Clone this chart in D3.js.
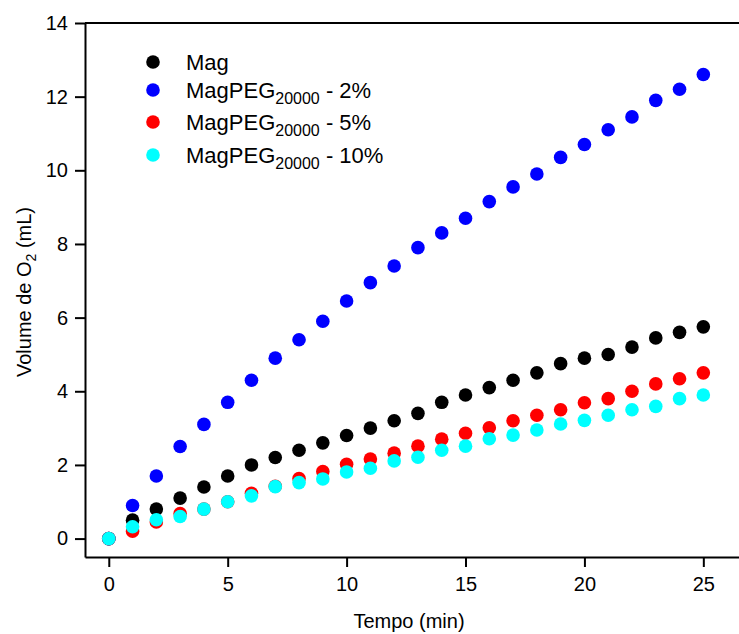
<!DOCTYPE html>
<html lang="en">
<head>
    <meta charset="UTF-8">
    <script src="https://d3js.org/d3.v7.min.js"></script>
    <title>Volume de O2</title>
    <style>
        body { margin: 0; background: white; }
        svg { display: block; font-family: "Liberation Sans", Arial, sans-serif; }
        .axis path, .axis line { stroke: black; stroke-width: 2px; }
        .axis text { font-size: 20px; fill: black; }
    </style>
</head>
<body>
    <script>
        /*------------------- data --------------------*/
        const tempo = d3.range(0, 26)  // 0..25 min
        const mag = [0, 0.5, 0.8, 1.1, 1.4, 1.7, 2.0, 2.2, 2.4, 2.6, 2.8, 3.0, 3.2, 3.4, 3.7, 3.9, 4.1, 4.3, 4.5, 4.75, 4.9, 5.0, 5.2, 5.45, 5.6, 5.75]
        const peg2 = [0, 0.9, 1.7, 2.5, 3.1, 3.7, 4.3, 4.9, 5.4, 5.9, 6.45, 6.95, 7.4, 7.9, 8.3, 8.7, 9.15, 9.55, 9.9, 10.35, 10.7, 11.1, 11.45, 11.9, 12.2, 12.6]
        const peg5 = [0, 0.2, 0.45, 0.68, 0.8, 1.0, 1.23, 1.42, 1.63, 1.82, 2.02, 2.16, 2.32, 2.51, 2.7, 2.86, 3.01, 3.2, 3.35, 3.5, 3.69, 3.8, 4.0, 4.2, 4.34, 4.5]
        const peg10 = [0, 0.32, 0.51, 0.6, 0.8, 1.0, 1.16, 1.41, 1.52, 1.62, 1.81, 1.91, 2.11, 2.21, 2.4, 2.51, 2.71, 2.81, 2.95, 3.11, 3.21, 3.35, 3.5, 3.59, 3.8, 3.9]
        const xTicks = [0, 5, 10, 15, 20, 25]
        const yTicks = [0, 2, 4, 6, 8, 10, 12, 14]

        const series = [
            { name: "Mag", sub: null, tail: null, color: "#000000", values: mag },
            { name: "MagPEG", sub: "20000", tail: " - 2%", color: "#0000ff", values: peg2 },
            { name: "MagPEG", sub: "20000", tail: " - 5%", color: "#ff0000", values: peg5 },
            { name: "MagPEG", sub: "20000", tail: " - 10%", color: "#00ffff", values: peg10 }
        ]

        /*------------------- svg + scales --------------------*/
        const width = 739, height = 634
        const svg = d3.select("body").append("svg")
            .attr("width", width)
            .attr("height", height)

        const x = d3.scaleLinear().domain([-1, 26.5]).range([85, 739])
        const y = d3.scaleLinear().domain([-0.5, 14]).range([557, 23])

        // axes
        svg.append("g")
            .attr("class", "axis")
            .attr("transform", `translate(0,${y.range()[0]})`)
            .call(d3.axisBottom(x).tickValues(xTicks).tickSizeInner(10).tickSizeOuter(0).tickPadding(10))

        svg.append("g")
            .attr("class", "axis")
            .attr("transform", `translate(${x.range()[0]},0)`)
            .call(d3.axisLeft(y).tickValues(yTicks).tickSizeInner(10).tickSizeOuter(0).tickPadding(7))

        // top frame line
        svg.append("line")
            .attr("x1", x.range()[0]).attr("x2", x.range()[1])
            .attr("y1", y.range()[1]).attr("y2", y.range()[1])
            .attr("stroke", "black").attr("stroke-width", 2)

        // axis titles
        svg.append("text")
            .attr("x", 409).attr("y", 628)
            .attr("text-anchor", "middle")
            .attr("font-size", 20)
            .text("Tempo (min)")

        const yTitle = svg.append("text")
            .attr("transform", "translate(31,292) rotate(-90)")
            .attr("text-anchor", "middle")
            .attr("font-size", 20)
        yTitle.append("tspan").text("Volume de O")
        yTitle.append("tspan").attr("font-size", 14).attr("dy", 5).text("2")
        yTitle.append("tspan").attr("dy", -5).text(" (mL)")

        /*------------------- points --------------------*/
        series.forEach(s => {
            svg.append("g")
                .selectAll("circle")
                .data(s.values)
                .enter()
                .append("circle")
                .attr("cx", (d, i) => x(tempo[i]))
                .attr("cy", d => y(d))
                .attr("r", 6.8)
                .attr("fill", s.color)
        })

        /*------------------- legend --------------------*/
        const legendY = [62, 90, 122, 155]
        series.forEach((s, i) => {
            const g = svg.append("g").attr("transform", `translate(153,${legendY[i]})`)
            g.append("circle").attr("r", 6.8).attr("fill", s.color)
            const t = g.append("text")
                .attr("x", 33).attr("y", 8)
                .attr("font-size", 22)
            t.append("tspan").text(s.name)
            if (s.sub) {
                t.append("tspan").attr("font-size", 16).attr("dy", 6).text(s.sub)
                t.append("tspan").attr("dy", -6).text(s.tail)
            }
        })
    </script>
</body>
</html>
